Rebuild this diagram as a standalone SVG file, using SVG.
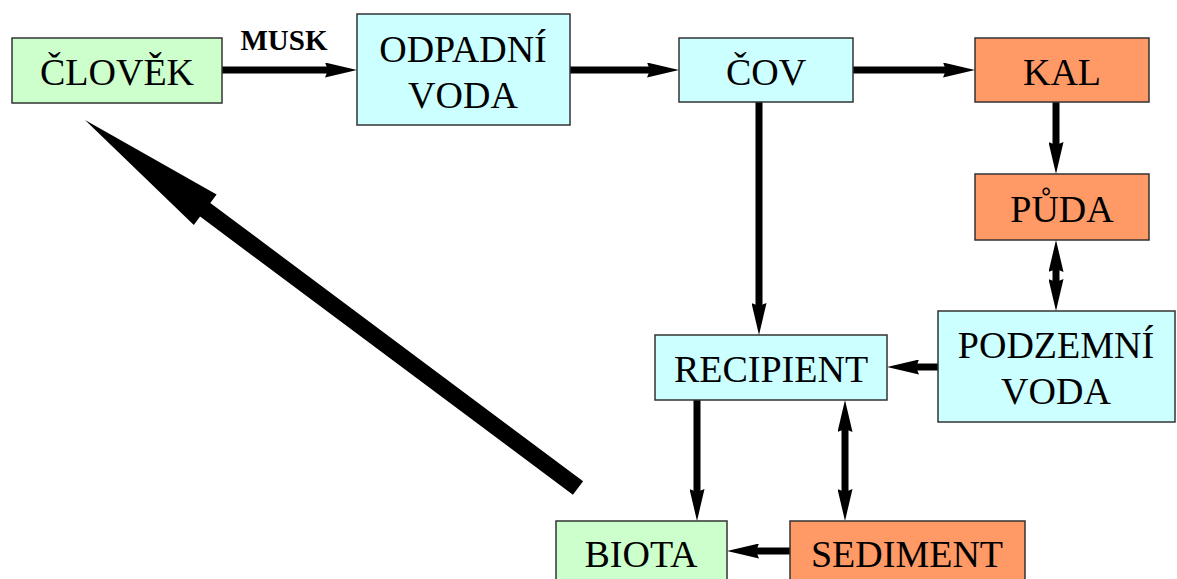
<svg xmlns="http://www.w3.org/2000/svg" width="1177" height="579" viewBox="0 0 1177 579">
<defs>
<style>
.box{stroke:#333;stroke-width:1.5}
.g{fill:#ccffcc}.c{fill:#ccffff}.o{fill:#ff9966}
.t{font-family:"Liberation Serif","Times New Roman",serif;font-size:38px;fill:#000;text-anchor:middle}
.lbl{font-family:"Liberation Serif","Times New Roman",serif;font-size:29px;font-weight:bold;fill:#000;text-anchor:middle}
.a{stroke:#000;stroke-width:7;fill:none}
</style>
<marker id="ah" markerUnits="userSpaceOnUse" markerWidth="32" markerHeight="15" refX="12" refY="7.5" orient="auto" viewBox="0 0 32 15">
<path d="M0,0 L32,7.5 L0,15 L3,7.5 z" fill="#000"/>
</marker>
<marker id="as" markerUnits="userSpaceOnUse" markerWidth="32" markerHeight="15" refX="20" refY="7.5" orient="auto" viewBox="0 0 32 15">
<path d="M32,0 L0,7.5 L32,15 L29,7.5 z" fill="#000"/>
</marker>
</defs>
<rect width="1177" height="579" fill="#fff"/>
<g id="connectors">
<line class="a" x1="222" y1="70" x2="337" y2="70" marker-end="url(#ah)"/>
<text class="lbl" x="284" y="50">MUSK</text>
<line class="a" x1="570" y1="70" x2="659" y2="70" marker-end="url(#ah)"/>
<line class="a" x1="853" y1="70" x2="955" y2="70" marker-end="url(#ah)"/>
<line class="a" x1="1056" y1="102" x2="1056" y2="154" marker-end="url(#ah)"/>
<line class="a" x1="1056" y1="260" x2="1056" y2="291" marker-start="url(#as)" marker-end="url(#ah)"/>
<line class="a" x1="759" y1="102" x2="759" y2="315" marker-end="url(#ah)"/>
<line class="a" x1="938" y1="367" x2="907" y2="367" marker-end="url(#ah)"/>
<line class="a" x1="697" y1="400" x2="697" y2="501" marker-end="url(#ah)"/>
<line class="a" x1="845" y1="420" x2="845" y2="501" marker-start="url(#as)" marker-end="url(#ah)"/>
<line class="a" x1="790" y1="551" x2="747" y2="551" marker-end="url(#ah)"/>
<polygon fill="#000" points="85,120 216.6,194.6 210.3,203 583.1,481.2 572.9,494.8 200.1,216.6 193.8,225"/>
</g>
<g id="clovek"><rect class="box g" x="12" y="38" width="210" height="65"/><text class="t" x="117" y="85">ČLOVĚK</text></g>
<g id="odpadni-voda"><rect class="box c" x="357" y="14" width="213" height="111"/><text class="t" x="463" y="62">ODPADNÍ</text><text class="t" x="463" y="108">VODA</text></g>
<g id="cov"><rect class="box c" x="679" y="38" width="174" height="64"/><text class="t" x="766" y="85">ČOV</text></g>
<g id="kal"><rect class="box o" x="975" y="38" width="174" height="64"/><text class="t" x="1062" y="85">KAL</text></g>
<g id="puda"><rect class="box o" x="975" y="174" width="174" height="66"/><text class="t" x="1062" y="222">PŮDA</text></g>
<g id="podzemni-voda"><rect class="box c" x="938" y="311" width="237" height="111"/><text class="t" x="1056" y="358">PODZEMNÍ</text><text class="t" x="1056" y="404">VODA</text></g>
<g id="recipient"><rect class="box c" x="655" y="335" width="232" height="65"/><text class="t" x="771" y="382">RECIPIENT</text></g>
<g id="biota"><rect class="box g" x="556" y="521" width="171" height="65"/><text class="t" x="641" y="567">BIOTA</text></g>
<g id="sediment"><rect class="box o" x="790" y="521" width="235" height="65"/><text class="t" x="907" y="567">SEDIMENT</text></g>
</svg>
